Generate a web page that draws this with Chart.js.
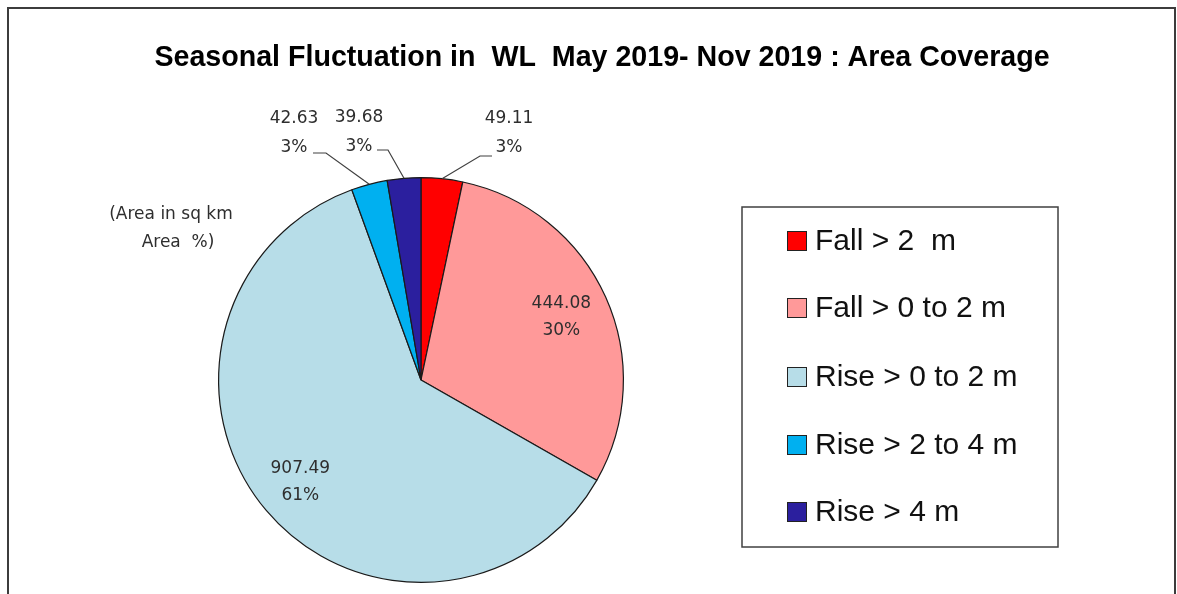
<!DOCTYPE html>
<html>
<head>
<meta charset="utf-8">
<script src="https://cdn.jsdelivr.net/npm/chart.js@4/dist/chart.umd.min.js"></script>
<style>
  html, body { margin: 0; padding: 0; background: #ffffff; }
  #wrap { width: 1177px; height: 594px; position: relative; }
</style>
</head>
<body>
<div id="wrap"><canvas id="c" width="1177" height="594"></canvas></div>
<script>
// ---- data ----
const chartTitle = 'Seasonal Fluctuation in  WL  May 2019- Nov 2019 : Area Coverage';
const categories = ['Fall > 2  m', 'Fall > 0 to 2 m', 'Rise > 0 to 2 m', 'Rise > 2 to 4 m', 'Rise > 4 m'];
const areaValues = [49.11, 444.08, 907.49, 42.63, 39.68];
const sliceColors = ['#FF0000', '#FF9999', '#B7DDE8', '#00B0F0', '#2B1F9E'];
const unitNote = ['(Area in sq km', 'Area  %)'];

// label layout (style only): inside labels or outside with leader line
const labelLayout = [
  { mode: 'out', tx: 509, ty: 119, elbow: [480, 156], end: [492, 156] },
  { mode: 'in', rf: 0.76 },
  { mode: 'in', rf: 0.78 },
  { mode: 'out', tx: 294, ty: 119, elbow: [326, 153], end: [313, 153] },
  { mode: 'out', tx: 359, ty: 118, elbow: [388, 150], end: [377, 150] }
];

const total = areaValues.reduce((a, b) => a + b, 0);
const pctText = v => Math.round(v / total * 100) + '%';

const decor = {
  id: 'decor',
  afterDraw(chart) {
    const ctx = chart.ctx;
    ctx.save();
    // outer frame
    ctx.strokeStyle = '#3c3c3c';
    ctx.lineWidth = 2;
    ctx.strokeRect(8, 8, 1167, 600);

    // title
    ctx.fillStyle = '#000000';
    ctx.textAlign = 'center';
    ctx.textBaseline = 'alphabetic';
    let fs = 26;
    ctx.font = 'bold ' + fs + 'px "Liberation Sans", Arial, sans-serif';
    const w = ctx.measureText(chartTitle).width;
    fs = fs * 895 / w;
    ctx.font = 'bold ' + fs.toFixed(2) + 'px "Liberation Sans", Arial, sans-serif';
    ctx.fillText(chartTitle, 602, 66);

    // legend box
    ctx.strokeStyle = '#404040';
    ctx.lineWidth = 1.5;
    ctx.strokeRect(742, 207, 316, 340);
    const rowY = [241, 308, 377, 445, 512];
    ctx.font = '30px "Liberation Sans", Arial, sans-serif';
    ctx.textAlign = 'left';
    ctx.textBaseline = 'middle';
    chart.data.labels.forEach((lab, i) => {
      const y = rowY[i];
      ctx.fillStyle = chart.data.datasets[0].backgroundColor[i];
      ctx.fillRect(787, y - 10, 20, 20);
      ctx.strokeStyle = '#222222';
      ctx.lineWidth = 1;
      ctx.strokeRect(787.5, y - 9.5, 19, 19);
      ctx.fillStyle = '#111111';
      ctx.fillText(lab, 815, y + 1);
    });

    // data labels
    const meta = chart.getDatasetMeta(0);
    const vals = chart.data.datasets[0].data;
    ctx.font = '17px "DejaVu Sans", Verdana, sans-serif';
    ctx.fillStyle = '#2e2e2e';
    ctx.textAlign = 'center';
    ctx.textBaseline = 'middle';
    meta.data.forEach((arc, i) => {
      const p = arc.getProps(['x', 'y', 'startAngle', 'endAngle', 'outerRadius'], true);
      const mid = (p.startAngle + p.endAngle) / 2;
      const L = labelLayout[i];
      const t1 = vals[i].toFixed(2), t2 = pctText(vals[i]);
      if (L.mode === 'in') {
        const r = p.outerRadius * L.rf;
        const cx = p.x + Math.cos(mid) * r, cy = p.y + Math.sin(mid) * r;
        ctx.fillStyle = '#2e2e2e';
        ctx.fillText(t1, cx, cy - 13);
        ctx.fillText(t2, cx, cy + 14);
      } else {
        const ax = p.x + Math.cos(mid) * p.outerRadius;
        const ay = p.y + Math.sin(mid) * p.outerRadius;
        ctx.strokeStyle = '#404040';
        ctx.lineWidth = 1.2;
        ctx.beginPath();
        ctx.moveTo(ax, ay);
        ctx.lineTo(L.elbow[0], L.elbow[1]);
        ctx.lineTo(L.end[0], L.end[1]);
        ctx.stroke();
        ctx.fillStyle = '#2e2e2e';
        ctx.fillText(t1, L.tx, L.ty);
        ctx.fillText(t2, L.tx, L.ty + 29);
      }
    });

    // unit note
    ctx.fillText(unitNote[0], 171, 215);
    ctx.fillText(unitNote[1], 178, 243);
    ctx.restore();
  }
};

new Chart(document.getElementById('c'), {
  type: 'pie',
  data: {
    labels: categories,
    datasets: [{
      data: areaValues,
      backgroundColor: sliceColors,
      borderColor: '#1a1a1a',
      borderWidth: 1.2
    }]
  },
  options: {
    responsive: false,
    animation: false,
    layout: { padding: { left: 218, right: 553, top: 177, bottom: 11 } },
    plugins: {
      legend: { display: false },
      title: { display: false },
      tooltip: { enabled: false }
    }
  },
  plugins: [decor]
});
</script>
</body>
</html>
